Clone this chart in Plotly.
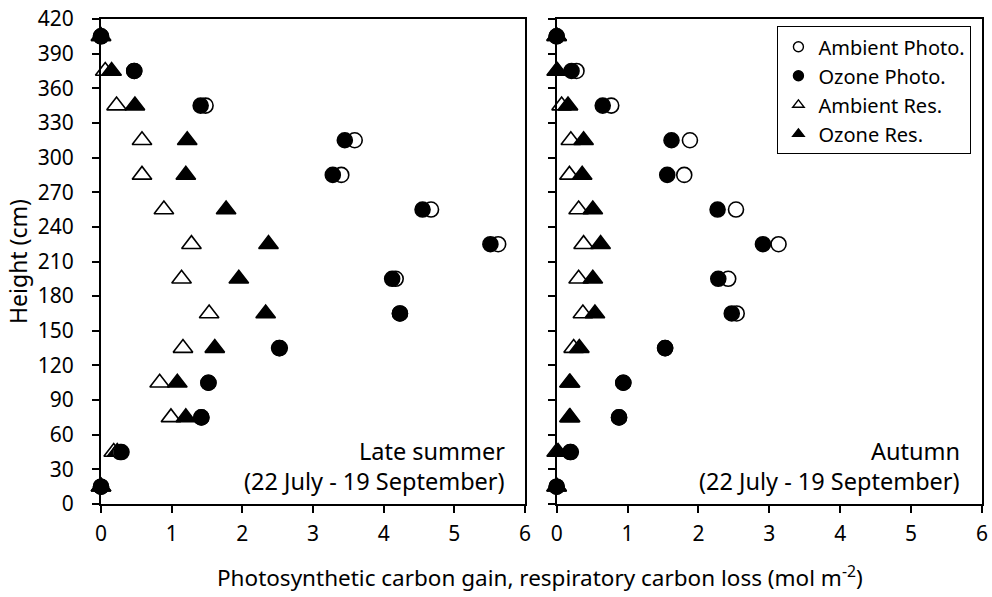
import plotly.graph_objects as go

heights = [15, 45, 75, 105, 135, 165, 195, 225, 255, 285, 315, 345, 375, 405]

# Late summer panel
amb_photo_ls = [0, 0.27, 1.42, 1.52, 2.53, 4.23, 4.17, 5.62, 4.67, 3.40, 3.59, 1.48, 0.47, 0]
ozo_photo_ls = [0, 0.29, 1.42, 1.52, 2.52, 4.23, 4.12, 5.51, 4.55, 3.28, 3.45, 1.41, 0.47, 0]
amb_res_ls = [0, 0.18, 0.99, 0.83, 1.16, 1.53, 1.14, 1.28, 0.89, 0.58, 0.58, 0.22, 0.06, 0]
ozo_res_ls = [0, 0.23, 1.20, 1.08, 1.61, 2.33, 1.95, 2.37, 1.77, 1.20, 1.22, 0.48, 0.15, 0]

# Autumn panel
amb_photo_au = [0, 0.20, 0.88, 0.94, 1.53, 2.54, 2.42, 3.13, 2.53, 1.80, 1.88, 0.77, 0.28, 0]
ozo_photo_au = [0, 0.19, 0.88, 0.94, 1.53, 2.47, 2.28, 2.91, 2.27, 1.56, 1.62, 0.65, 0.21, 0]
amb_res_au = [0, 0.00, 0.18, 0.18, 0.24, 0.37, 0.31, 0.38, 0.31, 0.18, 0.20, 0.07, 0.00, 0]
ozo_res_au = [0, 0.02, 0.19, 0.19, 0.32, 0.54, 0.51, 0.62, 0.51, 0.36, 0.38, 0.16, 0.01, 0]

series_names = ["Ambient Photo.", "Ozone Photo.", "Ambient Res.", "Ozone Res."]
x_ticks = [0, 1, 2, 3, 4, 5, 6]
y_ticks = list(range(0, 421, 30))

FONT = "Noto Sans"

styles = {
    "Ambient Photo.": dict(symbol="circle", color="white", size=15),
    "Ozone Photo.": dict(symbol="circle", color="black", size=15),
    "Ambient Res.": dict(symbol="triangle-up", color="white", size=17),
    "Ozone Res.": dict(symbol="triangle-up", color="black", size=17),
}

fig = go.Figure()

panels = [
    ("x", "y", {"Ambient Photo.": amb_photo_ls, "Ozone Photo.": ozo_photo_ls,
                "Ambient Res.": amb_res_ls, "Ozone Res.": ozo_res_ls}),
    ("x2", "y2", {"Ambient Photo.": amb_photo_au, "Ozone Photo.": ozo_photo_au,
                  "Ambient Res.": amb_res_au, "Ozone Res.": ozo_res_au}),
]

draw_order = ["Ambient Res.", "Ozone Res.", "Ambient Photo.", "Ozone Photo."]
for xa, ya, data in panels:
    for name in draw_order:
        st = styles[name]
        fig.add_trace(go.Scatter(
            x=data[name], y=heights, mode="markers", xaxis=xa, yaxis=ya,
            name=name, showlegend=False, cliponaxis=False,
            marker=dict(symbol=st["symbol"], size=st["size"], color=st["color"],
                        line=dict(color="black", width=1.6)),
        ))

# legend entries
for name in series_names:
    st = styles[name]
    fig.add_trace(go.Scatter(
        x=[None], y=[None], mode="markers", xaxis="x2", yaxis="y2", name=name,
        marker=dict(symbol=st["symbol"], size=10,
                    color=st["color"], line=dict(color="black", width=1.4)),
    ))

tick_font = dict(family=FONT, size=21, color="black")
axis_common = dict(
    showline=True, linecolor="black", linewidth=2, mirror=True,
    ticks="outside", ticklen=7, tickwidth=2, tickcolor="black",
    showgrid=False, zeroline=False, automargin=False,
)

fig.update_layout(
    width=992, height=597,
    margin=dict(l=101, r=10, t=19, b=93),
    paper_bgcolor="white", plot_bgcolor="white",
    font=dict(family=FONT, color="black"),
    xaxis=dict(domain=[0, 0.4813], range=[0, 6], tickvals=x_ticks, anchor="y",
               ticklabelstandoff=3, tickfont=tick_font, **axis_common),
    xaxis2=dict(domain=[0.5172, 1.0], range=[0, 6], tickvals=x_ticks, anchor="y2",
                ticklabelstandoff=3, tickfont=tick_font, **axis_common),
    yaxis=dict(domain=[0, 1], range=[0, 420], tickvals=y_ticks, anchor="x",
               ticklabelstandoff=14, tickfont=tick_font,
               title=dict(text="Height (cm)", font=dict(family=FONT, size=23), standoff=4),
               **axis_common),
    yaxis2=dict(domain=[0, 1], range=[0, 420], tickvals=y_ticks, anchor="x2",
                showticklabels=False, **axis_common),
    legend=dict(
        x=0.988, y=0.985, xanchor="right", yanchor="top",
        bordercolor="black", borderwidth=1, bgcolor="white",
        font=dict(family=FONT, size=20, color="black"),
        itemwidth=30, tracegroupgap=0,
    ),
    showlegend=True,
)

ann_font = dict(family=FONT, size=23.5, color="black")
fig.add_annotation(text="Late summer", xref="x domain", yref="y domain", x=0.957, y=0.109,
                   xanchor="right", yanchor="middle", showarrow=False, font=ann_font)
fig.add_annotation(text="(22 July - 19 September)", xref="x domain", yref="y domain", x=0.957, y=0.047,
                   xanchor="right", yanchor="middle", showarrow=False, font=ann_font)
fig.add_annotation(text="Autumn", xref="x2 domain", yref="y2 domain", x=0.953, y=0.109,
                   xanchor="right", yanchor="middle", showarrow=False, font=ann_font)
fig.add_annotation(text="(22 July - 19 September)", xref="x2 domain", yref="y2 domain", x=0.953, y=0.047,
                   xanchor="right", yanchor="middle", showarrow=False, font=ann_font)
fig.add_annotation(text="Photosynthetic carbon gain, respiratory carbon loss (mol m<sup>-2</sup>)",
                   xref="paper", yref="paper", x=0.498, y=-0.15, xanchor="center", yanchor="middle",
                   showarrow=False, font=dict(family=FONT, size=22.5, color="black"))

fig.write_html("out.html")
